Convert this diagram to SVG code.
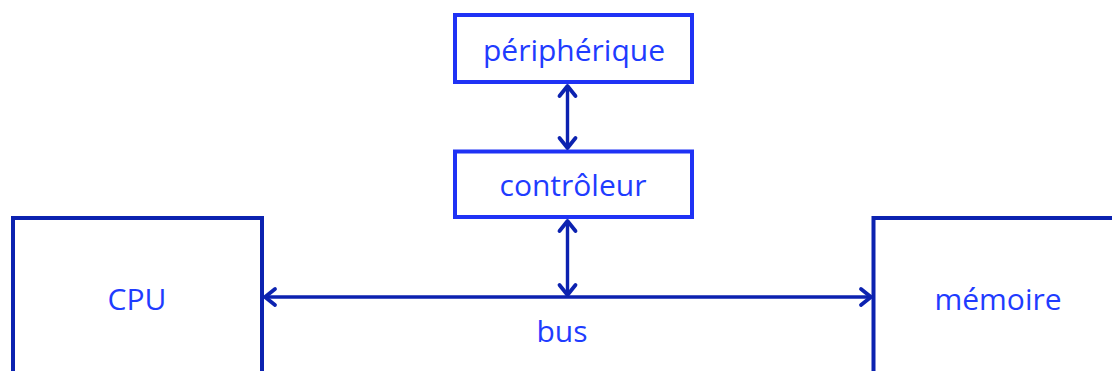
<svg xmlns="http://www.w3.org/2000/svg" width="1112" height="371" viewBox="0 0 1112 371">
<style>
.box{fill:#fff;stroke:#1f32f5;stroke-width:4}
.big{fill:#fff;stroke:#0c22b0;stroke-width:4}
.lbl{font-family:"Open Sans",sans-serif;font-size:30px;fill:#1f3cff;text-anchor:middle}
.con{stroke:#0c22b0;stroke-width:3.4;fill:none}
</style>
<defs>
<marker id="ah" markerUnits="userSpaceOnUse" markerWidth="24" markerHeight="24" viewBox="-14 -12 16 24" refX="0" refY="0" orient="auto-start-reverse">
<path d="M-10,-8 L0,0 L-10,8" fill="none" stroke="#0c22b0" stroke-width="3.8" stroke-linecap="round" stroke-linejoin="round"/>
</marker>
</defs>
<g id="peripherique"><rect class="box" x="455" y="15" width="237" height="67"/><text class="lbl" x="574" y="61">périphérique</text></g>
<g id="controleur"><rect class="box" x="455" y="151.5" width="237" height="65.5"/><text class="lbl" x="573" y="196">contrôleur</text></g>
<g id="cpu"><rect class="big" x="13" y="218" width="249" height="170"/><text class="lbl" x="137" y="310">CPU</text></g>
<g id="memoire"><rect class="big" x="873.5" y="218" width="260" height="170"/><text class="lbl" x="998" y="310">mémoire</text></g>
<g id="connectors">
<line class="con" x1="567.5" y1="86" x2="567.5" y2="148" marker-start="url(#ah)" marker-end="url(#ah)"/>
<line class="con" x1="567.5" y1="221" x2="567.5" y2="295" marker-start="url(#ah)" marker-end="url(#ah)"/>
<line class="con" x1="265" y1="297" x2="871" y2="297" marker-start="url(#ah)" marker-end="url(#ah)"/>
<text class="lbl" x="562" y="342">bus</text>
</g>
</svg>
